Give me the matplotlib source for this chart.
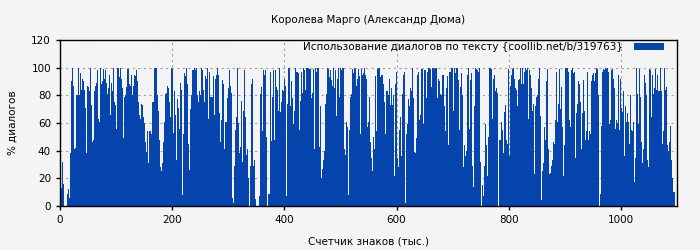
import numpy as np
import matplotlib
matplotlib.use("Agg")
import matplotlib.pyplot as plt

title = "Королева Марго (Александр Дюма)"
xlabel = "Счетчик знаков (тыс.)"
ylabel = "% диалогов"
legend_label = "Использование диалогов по тексту {coollib.net/b/319763}"
bin_k = 1.7825  # thousand characters per bar

v1 = [13,13,32,16,0,0,0,9,12,6,38,90,100,87,41,42,80,80,100,80,96,84,92,90,84,71,38,87,86,83,100,73,46,48,83,87,89,98,63,61,100,88,90,99,92,98,89,81,85,95,66,89,83,100,75,73,56,100,100,93,100,92,85,49,79,80,86,99,99,88,87,95,80,87,95,94,98,90,75,66,63,74,73,64,60,46,39,54,31,54,54,52,75,75,100,100,100,80,69,48,28,25]
v2 = [31,46,61,81,82,87,85,75,64,100,99,53,83,66,33,77,71,56,89,84,8,52,96,94,100,88,45,26,70,80,98,98,100,98,100,80,75,83,80,100,98,84,75,94,92,100,63,97,79,79,79,94,66,92,95,100,95,67,46,62,91,88,41,61,61,78,85,98,87,82,6,2,29,55,64,100,60,38,43,76,32,69,98,64,37,41,20,0,29,88,92,29,33,5,0,0,0,7,81,86,54,98,95,98]
v3 = [50,0,9,9,97,47,79,98,48,98,86,84,69,100,68,75,84,83,92,87,7,74,100,100,72,90,78,59,69,100,97,97,96,55,76,97,82,100,98,84,100,100,100,99,99,78,82,99,41,100,97,100,100,43,72,20,27,33,40,74,81,100,99,93,98,91,87,100,85,98,65,92,100,79,100,98,100,100,41,37,61,57,8,55,79,81,99,96,100,99,87,92,99,94,52,99,95,96,100,95,92,57,61]
v4 = [79,46,35,25,50,41,94,54,99,100,100,93,95,95,88,75,52,83,83,80,92,73,85,73,80,22,88,97,35,28,55,64,36,81,95,97,2,52,59,77,72,85,83,100,78,39,38,49,95,97,62,66,99,99,59,98,98,78,97,100,100,99,86,100,100,99,100,100,78,92,90,81,80,95,95,72,54,85,94,44,97,97,100,100,69,100,96,100,100,91,55,86,96,80,28,44,36,40,95,100,56,91,96]
v5 = [29,14,72,100,99,98,97,100,32,0,15,7,29,59,44,22,50,100,100,99,63,92,95,83,85,82,0,48,48,61,55,38,68,73,48,45,99,36,87,95,99,100,92,85,84,72,91,92,100,88,100,88,97,100,98,100,63,98,95,85,69,74,23,72,79,80,92,100,65,4,25,31,57,48,90,99,41,23,24,29,33,46,45,62,97,61,74,99,70,86,57,22,44,100,100,100,97,62,57,98,100,96]
v6 = [97,35,67,74,90,88,75,41,67,91,69,48,54,97,48,54,52,90,95,96,90,96,100,99,80,0,9,58,97,99,98,100,99,100,97,59,62,98,99,92,85,56,62,60,95,55,92,71,68,83,36,72,61,67,61,45,80,55,54,61,17,35,100,81,59,99,79,46,31,41,95,89,80,33,28,99,98,64,95,81,85,99,84,95,83,83,100,83,45,54,100,84,86,44,40,46,58,33,20,10,10]

values = np.array(v1 + v2 + v3 + v4 + v5 + v6, dtype=float)
xs = np.arange(len(values)) * bin_k

bg = "#f4f4f4"
bar_color = "#0645ad"
fs = 7.5

fig = plt.figure(figsize=(7, 2.5), dpi=100, facecolor=bg)
ax = fig.add_axes([60/700, 44/250, 617/700, 166/250])
ax.set_facecolor(bg)

ax.bar(xs, values, width=bin_k, align="edge", color=bar_color,
       edgecolor="none", linewidth=0, label=legend_label, zorder=2)

ax.set_xlim(0, 1100)
ax.set_ylim(0, 120)
ax.set_xticks(np.arange(0, 1001, 200))
ax.set_yticks(np.arange(0, 121, 20))
ax.grid(True, color="#a0a0a0", linestyle=(0, (2, 3)), linewidth=0.8, zorder=0)
ax.set_axisbelow(True)
ax.tick_params(direction="out", length=3, width=1, labelsize=fs, colors="black")
for s in ax.spines.values():
    s.set_linewidth(1.0)
    s.set_color("black")

ax.set_title(title, fontsize=fs, pad=12)
ax.set_xlabel(xlabel, fontsize=fs, labelpad=8)
ax.set_ylabel(ylabel, fontsize=fs, labelpad=10)

leg = ax.legend(loc="upper right", bbox_to_anchor=(607/617, 1.0 + 1/166),
                frameon=False, fontsize=fs, markerfirst=False,
                handlelength=2.9, handleheight=0.6, borderaxespad=0.0,
                handletextpad=1.0, borderpad=0.3)

fig.savefig("out.png", dpi=100, facecolor=bg)
